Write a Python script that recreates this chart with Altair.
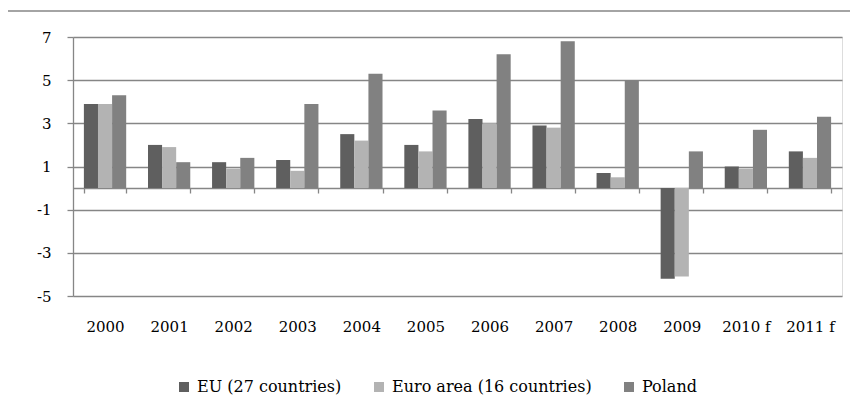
import altair as alt
import pandas as pd

years = ["2000", "2001", "2002", "2003", "2004", "2005", "2006", "2007", "2008", "2009", "2010 f", "2011 f"]
series_names = ["EU (27 countries)", "Euro area (16 countries)", "Poland"]
eu = [3.9, 2.0, 1.2, 1.3, 2.5, 2.0, 3.2, 2.9, 0.7, -4.2, 1.0, 1.7]
euro = [3.9, 1.9, 0.9, 0.8, 2.2, 1.7, 3.0, 2.8, 0.5, -4.1, 0.9, 1.4]
poland = [4.3, 1.2, 1.4, 3.9, 5.3, 3.6, 6.2, 6.8, 5.0, 1.7, 2.7, 3.3]
colors = ["#5f5f5f", "#b3b3b3", "#818181"]
y_ticks = [-5, -3, -1, 1, 3, 5, 7]

rows = []
for s, vals in zip(series_names, [eu, euro, poland]):
    for y, v in zip(years, vals):
        rows.append({"year": y, "series": s, "value": v})
df = pd.DataFrame(rows)

FONT = "DejaVu Serif"
GRAY = "#868686"
W, H = 769, 259

frame = alt.Chart(pd.DataFrame({"a": [0]})).mark_rect(
    fill=None, stroke=GRAY, strokeWidth=1.5
).encode(
    x=alt.value(-66), x2=alt.value(800), y=alt.value(-26), y2=alt.value(400)
)

bars = alt.Chart(df).mark_bar().encode(
    x=alt.X("year:N", sort=years, title=None,
            scale=alt.Scale(paddingInner=0.34, paddingOuter=0.17),
            axis=alt.Axis(orient="bottom", offset=-108, domainColor=GRAY, domainWidth=1.3,
                          tickColor=GRAY, tickWidth=1.3, tickSize=5, tickBand="extent",
                          labelPadding=126, labelAngle=0, labelFont=FONT, labelFontSize=15,
                          labelColor="black", grid=False)),
    xOffset=alt.XOffset("series:N", sort=series_names),
    y=alt.Y("value:Q", title=None,
            scale=alt.Scale(domain=[-5, 7], nice=False, zero=False),
            axis=alt.Axis(values=y_ticks, grid=True, gridColor=GRAY, gridWidth=1.3,
                          domainColor=GRAY, domainWidth=1.3, tickColor=GRAY, tickWidth=1.3,
                          tickSize=6, labelPadding=16, labelFont=FONT, labelFontSize=15,
                          labelColor="black",
                          labelExpr="datum.value < 0 ? '-' + abs(datum.value) : '' + datum.value")),
    color=alt.Color("series:N", sort=series_names,
                    scale=alt.Scale(domain=series_names, range=colors),
                    legend=alt.Legend(orient="none", legendX=103, legendY=342, direction="horizontal",
                                      title=None, symbolType="square", symbolSize=100,
                                      symbolStrokeWidth=0, labelFont=FONT, labelFontSize=16,
                                      labelColor="black", columnPadding=29, labelOffset=5,
                                      labelLimit=400)),
)

chart = alt.layer(frame, bars).properties(
    width=W, height=H,
    autosize=alt.AutoSizeParams(type="none"),
    padding={"left": 65, "top": 29, "right": 8, "bottom": 105},
).configure_view(stroke=None).configure(background="white")

chart.save("out.html", embed_options={"renderer": "svg", "actions": False})
